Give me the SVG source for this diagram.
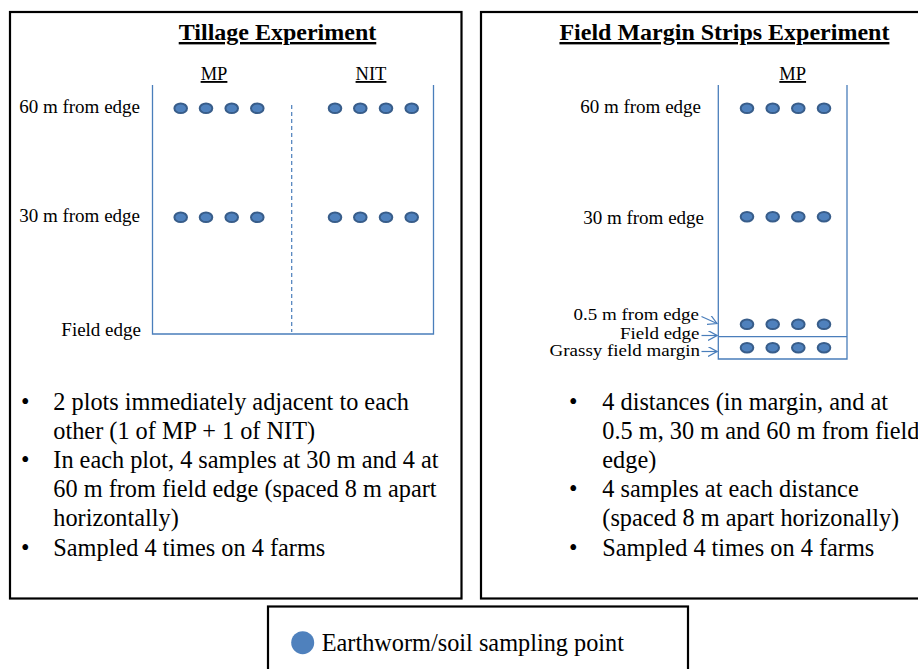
<svg xmlns="http://www.w3.org/2000/svg" width="918" height="669" viewBox="0 0 918 669">
<defs>
<style>
text{font-family:"Liberation Serif","Times New Roman",serif;fill:#000}
.title{font-size:24px;font-weight:bold;text-decoration:underline}
.body{font-size:24.3px}
.lbl{font-size:19px}
.hdr{font-size:18.5px;text-decoration:underline}
.box{fill:none;stroke:#000;stroke-width:2.2}
.plot{fill:none;stroke:#4a7ebb;stroke-width:1.3}
.dot{fill:#4f81bd;stroke:#385d8a;stroke-width:2}
.arr{fill:none;stroke:#4a7ebb;stroke-width:1.2;marker-end:url(#chev)}
</style>
<marker id="chev" viewBox="0 0 10 10" refX="9" refY="5" markerWidth="10" markerHeight="10" markerUnits="userSpaceOnUse" orient="auto">
<path d="M0,0 L9,5 L0,10" fill="none" stroke="#4a7ebb" stroke-width="1.2"/>
</marker>
<ellipse id="d" cx="0" cy="0" rx="6.3" ry="4.8" class="dot"/>
</defs>
<rect width="918" height="669" fill="#fff"/>

<g id="tillage">
<rect class="box" x="10" y="12" width="451.5" height="586.5"/>
<text class="title" x="277.5" y="40" text-anchor="middle">Tillage Experiment</text>
<text class="hdr" x="214" y="80" text-anchor="middle">MP</text>
<text class="hdr" x="371" y="80" text-anchor="middle">NIT</text>
<text class="lbl" x="140" y="113" text-anchor="end">60 m from edge</text>
<text class="lbl" x="140" y="222" text-anchor="end">30 m from edge</text>
<text class="lbl" x="141" y="336" text-anchor="end">Field edge</text>
<path class="plot" d="M152.5,85 V334 H433.5 V85"/>
<line x1="291.7" y1="105" x2="291.7" y2="332" stroke="#4a7ebb" stroke-width="1.2" stroke-dasharray="4,3"/>
<g>
<use href="#d" x="180.7" y="108.3"/><use href="#d" x="206" y="108.3"/><use href="#d" x="231.7" y="108.3"/><use href="#d" x="257.3" y="108.3"/>
<use href="#d" x="335" y="108.3"/><use href="#d" x="360.3" y="108.3"/><use href="#d" x="386" y="108.3"/><use href="#d" x="411.7" y="108.3"/>
<use href="#d" x="180.7" y="217.3"/><use href="#d" x="206" y="217.3"/><use href="#d" x="231.7" y="217.3"/><use href="#d" x="257.3" y="217.3"/>
<use href="#d" x="335" y="217.3"/><use href="#d" x="360.3" y="217.3"/><use href="#d" x="386" y="217.3"/><use href="#d" x="411.7" y="217.3"/>
</g>
<g class="body">
<text class="body" x="21" y="410">•</text>
<text class="body" x="53.3" y="410">2 plots immediately adjacent to each</text>
<text class="body" x="53.3" y="439">other (1 of MP + 1 of NIT)</text>
<text class="body" x="21" y="468">•</text>
<text class="body" x="53.3" y="468">In each plot, 4 samples at 30 m and 4 at</text>
<text class="body" x="53.3" y="497">60 m from field edge (spaced 8 m apart</text>
<text class="body" x="53.3" y="526">horizontally)</text>
<text class="body" x="21" y="556">•</text>
<text class="body" x="53.3" y="556">Sampled 4 times on 4 farms</text>
</g>
</g>

<g id="margin">
<rect class="box" x="481" y="12" width="460" height="586.5"/>
<text class="title" x="724.4" y="40" text-anchor="middle">Field Margin Strips Experiment</text>
<text class="hdr" x="792.7" y="80" text-anchor="middle">MP</text>
<text class="lbl" x="701" y="113" text-anchor="end">60 m from edge</text>
<text class="lbl" x="704" y="224" text-anchor="end">30 m from edge</text>
<text class="lbl" text-anchor="end" transform="translate(699,320) scale(1,0.84)">0.5 m from edge</text>
<text class="lbl" text-anchor="end" transform="translate(699.5,339) scale(1,0.84)">Field edge</text>
<text class="lbl" text-anchor="end" transform="translate(700,356) scale(1,0.84)">Grassy field margin</text>
<path class="plot" d="M718.3,85 V359 H847 V85 M718.3,336.7 H847"/>
<g>
<use href="#d" x="747" y="108.3"/><use href="#d" x="772.7" y="108.3"/><use href="#d" x="798.3" y="108.3"/><use href="#d" x="824" y="108.3"/>
<use href="#d" x="747" y="216.7"/><use href="#d" x="772.7" y="216.7"/><use href="#d" x="798.3" y="216.7"/><use href="#d" x="824" y="216.7"/>
<use href="#d" x="747" y="324.3"/><use href="#d" x="772.7" y="324.3"/><use href="#d" x="798.3" y="324.3"/><use href="#d" x="824" y="324.3"/>
<use href="#d" x="747" y="347.7"/><use href="#d" x="772.7" y="347.7"/><use href="#d" x="798.3" y="347.7"/><use href="#d" x="824" y="347.7"/>
</g>
<text class="body" x="569" y="410">•</text>
<text class="body" x="602.3" y="410">4 distances (in margin, and at</text>
<text class="body" x="602.3" y="439">0.5 m, 30 m and 60 m from field</text>
<text class="body" x="602.3" y="468">edge)</text>
<text class="body" x="569" y="497">•</text>
<text class="body" x="602.3" y="497">4 samples at each distance</text>
<text class="body" x="602.3" y="526">(spaced 8 m apart horizonally)</text>
<text class="body" x="569" y="556">•</text>
<text class="body" x="602.3" y="556">Sampled 4 times on 4 farms</text>
</g>

<g id="connectors">
<line class="arr" x1="701.5" y1="316.5" x2="717" y2="323.5"/>
<line class="arr" x1="701.5" y1="335.5" x2="717" y2="335.5"/>
<line class="arr" x1="701.5" y1="351.5" x2="717" y2="351.5"/>
</g>

<g id="legend">
<rect class="box" x="268" y="606.5" width="420" height="80"/>
<circle cx="302.7" cy="642.7" r="11.5" fill="#4f81bd"/>
<text class="body" x="321.7" y="650.5">Earthworm/soil sampling point</text>
</g>
</svg>
